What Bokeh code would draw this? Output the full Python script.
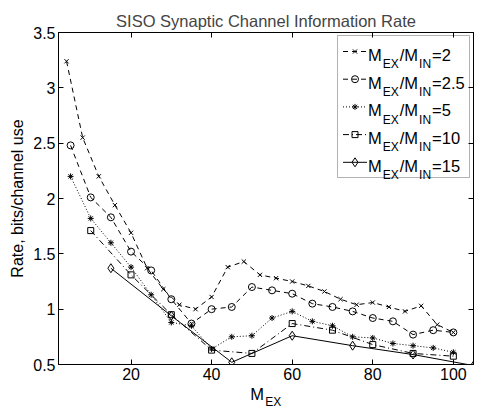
from bokeh.plotting import figure
from bokeh.models import (Range1d, LinearAxis, Label, FixedTicker, BoxAnnotation,
                          NumeralTickFormatter, CustomJSTickFormatter)
from bokeh.embed import file_html
from bokeh.resources import INLINE

# ---------------- data ----------------
x_r2 = [4, 8, 12, 16, 20, 24, 28, 32, 36, 40, 44, 48, 52, 56, 60, 64, 68, 72, 76, 80, 84, 88, 92, 96, 100]
y_r2 = [3.24, 2.55, 2.20, 1.94, 1.69, 1.37, 1.18, 1.04, 1.00, 1.11, 1.38, 1.43, 1.31, 1.28, 1.25,
        1.21, 1.16, 1.09, 1.04, 1.06, 1.02, 0.98, 1.03, 0.86, 0.79]
x_r25 = [5, 10, 15, 20, 25, 30, 35, 40, 45, 50, 55, 60, 65, 70, 75, 80, 85, 90, 95, 100]
y_r25 = [2.48, 2.01, 1.83, 1.52, 1.35, 1.09, 0.87, 1.00, 1.02, 1.20, 1.17, 1.14, 1.05, 1.02, 0.98,
         0.92, 0.89, 0.77, 0.81, 0.79]
x_r5 = [5, 10, 15, 20, 25, 30, 35, 40, 45, 50, 55, 60, 65, 70, 75, 80, 85, 90, 95, 100]
y_r5 = [2.20, 1.82, 1.60, 1.38, 1.13, 0.88, 0.85, 0.64, 0.75, 0.76, 0.92, 0.98, 0.89, 0.85, 0.75,
        0.74, 0.69, 0.67, 0.65, 0.61]
x_r10 = [10, 20, 30, 40, 50, 60, 70, 80, 90, 100]
y_r10 = [1.71, 1.31, 0.95, 0.63, 0.60, 0.87, 0.81, 0.68, 0.60, 0.575]
x_r15 = [15, 30, 45, 60, 75, 90, 105]
y_r15 = [1.37, 0.94, 0.52, 0.76, 0.67, 0.59, 0.49]

ratio_labels = ["2", "2.5", "5", "10", "15"]
x_ticks = [20, 40, 60, 80, 100]
y_ticks = [0.5, 1, 1.5, 2, 2.5, 3, 3.5]

TITLE = "SISO Synaptic Channel Information Rate"
Y_LABEL = "Rate, bits/channel use"
X_LABEL_MAIN, X_LABEL_SUB = "M", "EX"

# ---------------- layout ----------------
W, H = 478, 412
BL, BR, BT, BB = 58, 5, 32, 48
FW, FH = W - BL - BR, H - BT - BB
X0, X1, Y0, Y1 = 2, 105, 0.5, 3.5
FONT = "Liberation Sans"
MAIN_FS = 16.5
SUB_FS = 12

p = figure(width=W, height=H, x_range=Range1d(X0, X1), y_range=Range1d(Y0, Y1),
           output_backend="svg", toolbar_location=None,
           min_border_left=BL, min_border_right=BR, min_border_top=BT, min_border_bottom=BB,
           title=TITLE)
p.title.align = "center"
p.title.text_font = FONT
p.title.text_font_size = "16.5px"
p.title.text_font_style = "normal"
p.title.standoff = 5
p.title.offset = 0
p.grid.visible = False
p.outline_line_color = "black"
p.background_fill_color = "white"
p.border_fill_color = "white"

def style_axis(ax, labels=True):
    ax.major_tick_in = 5
    ax.major_tick_out = 0
    ax.minor_tick_in = 0
    ax.minor_tick_out = 0
    ax.axis_line_color = "black"
    ax.major_tick_line_color = "black"
    if labels:
        ax.major_label_text_font = FONT
        ax.major_label_text_font_size = "16px"
        ax.major_label_text_color = "black"
        ax.major_label_standoff = 4
    else:
        ax.major_label_text_color = None
        ax.major_label_text_font_size = "0px"
        ax.major_label_standoff = 0

xa = p.xaxis[0]
xa.ticker = FixedTicker(ticks=x_ticks)
style_axis(xa)
xa.major_label_standoff = 3
ya = p.yaxis[0]
ya.ticker = FixedTicker(ticks=y_ticks)
ya.formatter = NumeralTickFormatter(format="0.[0]")
style_axis(ya)
ya.major_label_standoff = 3
ya.axis_label = Y_LABEL
ya.axis_label_text_font = FONT
ya.axis_label_text_font_size = "16px"
ya.axis_label_text_font_style = "normal"
ya.axis_label_text_color = "black"
ya.axis_label_standoff = 4

top = LinearAxis(ticker=FixedTicker(ticks=x_ticks))
style_axis(top, labels=False)
p.add_layout(top, "above")
right = LinearAxis(ticker=FixedTicker(ticks=y_ticks))
style_axis(right, labels=False)
p.add_layout(right, "right")

# ---------------- x axis label M_EX: two label-only axes stacked below ----------------
def px_to_x(px):  # page pixel -> data x (layout helper for label placement)
    return X0 + (px - BL) * (X1 - X0) / FW

def label_axis(text, center_px, fs, standoff):
    ax = LinearAxis(ticker=FixedTicker(ticks=[px_to_x(center_px)]),
                    formatter=CustomJSTickFormatter(code=f"return '{text}'"))
    ax.axis_line_color = None
    ax.major_tick_line_color = None
    ax.minor_tick_line_color = None
    ax.major_tick_in = 0
    ax.major_tick_out = 0
    ax.minor_tick_in = 0
    ax.minor_tick_out = 0
    ax.major_label_text_font = FONT
    ax.major_label_text_font_size = f"{fs}px"
    ax.major_label_text_color = "black"
    ax.major_label_standoff = standoff
    p.add_layout(ax, "below")

label_axis(X_LABEL_MAIN, 256.7, MAIN_FS, 2)
label_axis(X_LABEL_SUB, 272.8, SUB_FS, -11)

# ---------------- series ----------------
series = [
    (x_r2, y_r2, "x", 6, "5 4"),
    (x_r25, y_r25, "circle", 7, "5 4"),
    (x_r5, y_r5, "asterisk", 6, "1 2"),
    (x_r10, y_r10, "square", 6, "6 3 1 3"),
    (x_r15, y_r15, "diamond", 9, "solid"),
]
for xs, ys, mk, sz, dash in series:
    p.line(xs, ys, line_color="black", line_width=1, line_dash=dash)
    p.scatter(xs, ys, marker=mk, size=sz, line_color="black", fill_color=None, line_width=1)

# ---------------- legend (drawn by hand for subscripts) ----------------
def to_data(sx, sy):
    return X0 + sx * (X1 - X0) / FW, Y0 + sy * (Y1 - Y0) / FH

LEG_L, LEG_R, LEG_B, LEG_T = 279, 411, 187, 329
p.add_layout(BoxAnnotation(left=LEG_L, right=LEG_R, bottom=LEG_B, top=LEG_T,
                           left_units="screen", right_units="screen",
                           bottom_units="screen", top_units="screen",
                           fill_color=None, line_color="black", line_width=1))

row_y = [313, 285.3, 257.6, 229.9, 202.2]
samp_x0, samp_x1, samp_xm = 284.5, 308.5, 296.5
txt_x = 309.5

def put(text, sx, sy, fs):
    p.add_layout(Label(x=sx, y=sy, x_units="screen", y_units="screen", text=text,
                       text_font=FONT, text_font_size=f"{fs}px", text_color="black",
                       text_baseline="alphabetic", text_align="left"))

for (xs, ys, mk, sz, dash), ry, lab in zip(series, row_y, ratio_labels):
    ax0, ay = to_data(samp_x0, ry)
    ax1, _ = to_data(samp_x1, ry)
    axm, _ = to_data(samp_xm, ry)
    p.line([ax0, ax1], [ay, ay], line_color="black", line_width=1, line_dash=dash)
    p.scatter([axm], [ay], marker=mk, size=sz, line_color="black", fill_color=None, line_width=1)
    base = ry - 3.3
    sub = ry - 12.6
    x = txt_x
    put("M", x, base, MAIN_FS); x += 0.833 * MAIN_FS + 1
    put("EX", x, sub, SUB_FS); x += 1.334 * SUB_FS + 1
    put("/M", x, base, MAIN_FS); x += 1.111 * MAIN_FS + 1
    put("IN", x, sub, SUB_FS); x += 1.0 * SUB_FS + 1
    put("=" + lab, x, base, MAIN_FS)

open("out.html", "w").write(file_html(p, INLINE))
